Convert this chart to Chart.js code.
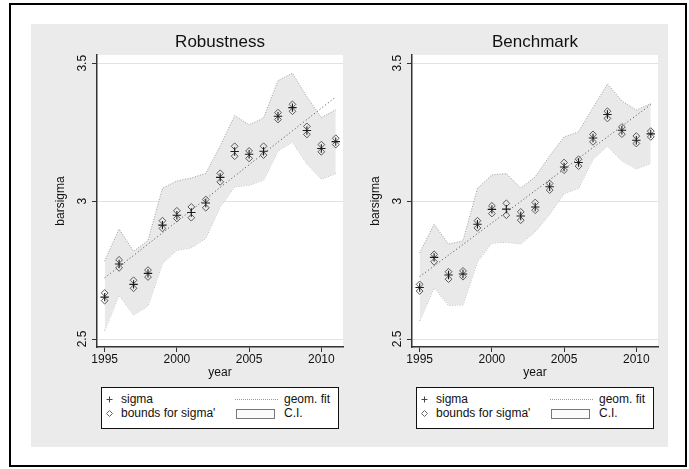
<!DOCTYPE html>
<html>
<head>
<meta charset="utf-8">
<script src="https://cdn.jsdelivr.net/npm/chart.js@4.4.1/dist/chart.umd.min.js"></script>
<style>
  html, body { margin: 0; padding: 0; background: #fff; }
  #page { position: relative; width: 689px; height: 469px; overflow: hidden;
          font-family: "Liberation Sans", Arial, Helvetica, sans-serif; color: #111; }
  #frame { position: absolute; left: 9px; top: 3px; width: 678px; height: 464px;
           border: 2px solid #000; box-sizing: border-box; }
  #bg { position: absolute; left: 31px; top: 24px; width: 637px; height: 423px; background: #ebebeb; }
  canvas.panel { position: absolute; top: 24px; }
  .legend { position: absolute; top: 387px; width: 238px; height: 42px; border: 1px solid #111;
            background: #fff; box-sizing: border-box; font-size: 12px; }
  .legend .t { position: absolute; height: 14px; line-height: 14px; white-space: nowrap; }
  .legend .sym { position: absolute; }
  .legend .fitline { position: absolute; width: 43px; height: 0; border-top: 1px dotted #999; }
  .legend .cibox { position: absolute; width: 39px; height: 10px; border: 1px solid #777;
                   background: #fbfbfb; box-sizing: border-box; }
</style>
</head>
<body>
<div id="page">
  <div id="frame"></div>
  <div id="bg"></div>
  <canvas id="robust" class="panel" width="320" height="362" style="left:31px"></canvas>
  <canvas id="bench" class="panel" width="320" height="362" style="left:346px"></canvas>
  <div class="legend" id="legRobust" style="left:101px"></div>
  <div class="legend" id="legBench" style="left:416px"></div>
</div>
<script>
// Survey years on the horizontal axis
const years = [1995, 1996, 1997, 1998, 1999, 2000, 2001, 2002, 2003,
               2004, 2005, 2006, 2007, 2008, 2009, 2010, 2011];
const xTickValues = [1995, 2000, 2005, 2010];
const yTickValues = [2.5, 3, 3.5];
const yTickLabels = ['2.5', '3', '3.5'];

// Robustness specification
const sigmaRobust   = [2.652, 2.772, 2.698, 2.738, 2.913, 2.949, 2.959, 2.993, 3.086,
                       3.180, 3.170, 3.181, 3.308, 3.339, 3.256, 3.191, 3.216];
const boundHiRobust = [2.667, 2.787, 2.713, 2.750, 2.929, 2.965, 2.979, 3.006, 3.101,
                       3.199, 3.182, 3.199, 3.321, 3.351, 3.271, 3.205, 3.228];
const boundLoRobust = [2.639, 2.758, 2.684, 2.725, 2.901, 2.937, 2.940, 2.976, 3.070,
                       3.163, 3.155, 3.167, 3.296, 3.326, 3.242, 3.179, 3.205];
const ciHiRobust    = [2.782, 2.899, 2.818, 2.857, 3.047, 3.073, 3.084, 3.101, 3.200,
                       3.310, 3.277, 3.301, 3.437, 3.464, 3.378, 3.303, 3.331];
const ciLoRobust    = [2.531, 2.659, 2.587, 2.620, 2.774, 2.822, 2.831, 2.865, 2.980,
                       3.052, 3.058, 3.076, 3.182, 3.215, 3.135, 3.080, 3.100];
const fitRobust     = [2.722, 2.762, 2.803, 2.844, 2.885, 2.926, 2.967, 3.008, 3.050,
                       3.091, 3.132, 3.173, 3.214, 3.255, 3.296, 3.337, 3.378];

// Benchmark specification
const sigmaBench    = [2.687, 2.796, 2.732, 2.736, 2.916, 2.970, 2.971, 2.946, 2.979,
                       3.052, 3.124, 3.140, 3.229, 3.314, 3.257, 3.221, 3.244];
const boundHiBench  = [2.698, 2.807, 2.744, 2.747, 2.929, 2.983, 2.992, 2.961, 2.995,
                       3.064, 3.140, 3.152, 3.242, 3.326, 3.269, 3.236, 3.254];
const boundLoBench  = [2.674, 2.780, 2.717, 2.726, 2.903, 2.955, 2.949, 2.931, 2.967,
                       3.040, 3.112, 3.127, 3.215, 3.300, 3.243, 3.209, 3.233];
const ciHiBench     = [2.812, 2.916, 2.844, 2.856, 3.046, 3.095, 3.100, 3.047, 3.088,
                       3.164, 3.233, 3.251, 3.339, 3.425, 3.363, 3.330, 3.354];
const ciLoBench     = [2.566, 2.686, 2.622, 2.624, 2.780, 2.848, 2.851, 2.845, 2.889,
                       2.952, 3.028, 3.046, 3.152, 3.200, 3.146, 3.117, 3.137];
const fitBench      = [2.726, 2.765, 2.804, 2.843, 2.882, 2.921, 2.960, 2.999, 3.038,
                       3.077, 3.116, 3.155, 3.194, 3.233, 3.272, 3.311, 3.350];

const FONT = '"Liberation Sans", Arial, Helvetica, sans-serif';
Chart.defaults.font.family = FONT;
Chart.defaults.color = '#111';

function pts(arr) { return years.map((yr, i) => ({ x: yr, y: arr[i] })); }

// white plotting region behind the grid
const plotBackground = {
  id: 'plotBackground',
  beforeDraw(chart) {
    const { ctx, chartArea: a } = chart;
    ctx.save();
    ctx.fillStyle = '#ffffff';
    ctx.fillRect(a.left, a.top, a.right - a.left, a.bottom - a.top);
    ctx.restore();
  }
};

// vertical (rotated) tick labels on the y axis
const verticalYTicks = {
  id: 'verticalYTicks',
  afterDraw(chart) {
    const { ctx, chartArea: a } = chart;
    const scale = chart.scales.y;
    ctx.save();
    ctx.font = '12px ' + FONT;
    ctx.fillStyle = '#111';
    ctx.textAlign = 'center';
    ctx.textBaseline = 'alphabetic';
    yTickValues.forEach((v, i) => {
      const py = scale.getPixelForValue(v);
      ctx.save();
      ctx.translate(a.left - 11, py);
      ctx.rotate(-Math.PI / 2);
      ctx.fillText(yTickLabels[i], 0, 0);
      ctx.restore();
    });
    ctx.restore();
  }
};

function buildPanel(id, titleText, s) {
  return new Chart(document.getElementById(id), {
    type: 'line',
    data: {
      datasets: [
        { label: 'sigma', data: pts(s.sigma), showLine: false, pointStyle: 'cross',
          pointRadius: 4.2, pointBorderColor: '#1a1a1a', pointBorderWidth: 1.1, borderColor: '#1a1a1a' },
        { label: "bounds for sigma' (upper)", data: pts(s.hi), showLine: false, pointStyle: 'rectRot',
          pointRadius: 3.4, pointBorderColor: '#5a5a5a', pointBackgroundColor: 'rgba(0,0,0,0)',
          pointBorderWidth: 1, borderColor: '#5a5a5a' },
        { label: "bounds for sigma' (lower)", data: pts(s.lo), showLine: false, pointStyle: 'rectRot',
          pointRadius: 3.4, pointBorderColor: '#5a5a5a', pointBackgroundColor: 'rgba(0,0,0,0)',
          pointBorderWidth: 1, borderColor: '#5a5a5a' },
        { label: 'geom. fit', data: pts(s.fit), borderColor: '#4a4a4a', borderWidth: 1,
          borderDash: [1, 2.5], pointRadius: 0, fill: false },
        { label: 'C.I. upper', data: pts(s.ciHi), borderColor: '#9c9c9c', borderWidth: 1,
          borderDash: [1, 1.6], pointRadius: 0, fill: '+1', backgroundColor: '#e9e9e9' },
        { label: 'C.I. lower', data: pts(s.ciLo), borderColor: '#9c9c9c', borderWidth: 1,
          borderDash: [1, 1.6], pointRadius: 0, fill: false }
      ]
    },
    options: {
      responsive: false,
      animation: false,
      devicePixelRatio: 1,
      layout: { padding: { left: 0, right: 8, top: 0, bottom: 6 } },
      plugins: {
        legend: { display: false },
        tooltip: { enabled: false },
        title: {
          display: true, text: titleText, fullSize: false, color: '#111',
          font: { size: 17, weight: 'normal', lineHeight: 1.2 },
          padding: { top: 7.8, bottom: 2.8 }
        }
      },
      scales: {
        x: {
          type: 'linear', min: 1994.47, max: 2011.5,
          afterBuildTicks: sc => { sc.ticks = xTickValues.map(v => ({ value: v })); },
          afterFit: sc => { sc.height = 33; },
          ticks: { font: { size: 12 }, color: '#111', padding: 0, autoSkip: false,
                   maxRotation: 0, callback: v => String(v) },
          grid: { drawOnChartArea: false, drawTicks: true, tickLength: 5, tickColor: '#333', tickWidth: 1 },
          border: { color: '#333', width: 1.5 },
          title: { display: true, text: 'year', font: { size: 12 }, color: '#111',
                   padding: { top: 0, bottom: 0 } }
        },
        y: {
          type: 'linear', min: 2.471, max: 3.530,
          afterBuildTicks: sc => { sc.ticks = yTickValues.map(v => ({ value: v })); },
          afterFit: sc => { sc.width = 66; },
          ticks: { display: false },
          grid: { color: '#e2e2e2', lineWidth: 1, drawTicks: true, tickLength: 5,
                  tickColor: '#333', tickWidth: 1 },
          border: { color: '#333', width: 1.5 },
          title: { display: true, text: 'barsigma', font: { size: 12 }, color: '#111',
                   padding: { top: 22, bottom: 0 } }
        }
      }
    },
    plugins: [plotBackground, verticalYTicks]
  });
}

buildPanel('robust', 'Robustness', {
  sigma: sigmaRobust, hi: boundHiRobust, lo: boundLoRobust,
  ciHi: ciHiRobust, ciLo: ciLoRobust, fit: fitRobust
});
buildPanel('bench', 'Benchmark', {
  sigma: sigmaBench, hi: boundHiBench, lo: boundLoBench,
  ciHi: ciHiBench, ciLo: ciLoBench, fit: fitBench
});

// legend block under each panel
function buildLegend(id) {
  const el = document.getElementById(id);
  el.innerHTML =
    '<svg class="sym" style="left:4px;top:8px" width="7" height="7"><path d="M3.5 0.5 V6.5 M0.5 3.5 H6.5" stroke="#444" stroke-width="1"/></svg>' +
    '<div class="t" style="left:19px;top:4px">sigma</div>' +
    '<div class="fitline" style="left:133px;top:11px"></div>' +
    '<div class="t" style="left:182px;top:4px">geom. fit</div>' +
    '<svg class="sym" style="left:4px;top:22px" width="7" height="7"><path d="M3.5 0.5 L6.5 3.5 L3.5 6.5 L0.5 3.5 Z" fill="none" stroke="#666" stroke-width="1"/></svg>' +
    '<div class="t" style="left:19px;top:18px">bounds for sigma\'</div>' +
    '<div class="cibox" style="left:134px;top:20.5px"></div>' +
    '<div class="t" style="left:182px;top:18px">C.I.</div>';
}
buildLegend('legRobust');
buildLegend('legBench');
</script>
</body>
</html>
